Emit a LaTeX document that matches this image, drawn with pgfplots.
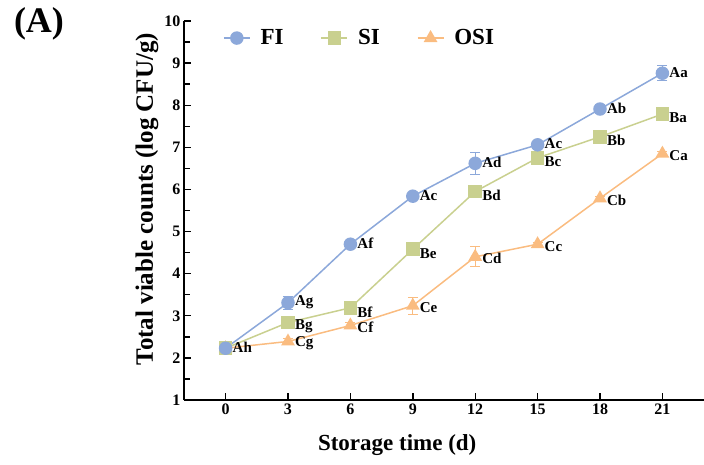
\documentclass[border=0pt]{standalone}
\usepackage{fontspec}
\setmainfont{Liberation Serif}
\usepackage{pgfplots}
\pgfplotsset{compat=1.18}
\definecolor{cFI}{RGB}{140,168,218}
\definecolor{cSI}{RGB}{201,208,143}
\definecolor{cOSI}{RGB}{250,188,128}

% x, mean, sd, letters
\pgfplotstableread{
x y e l
0 2.23 0.04 Ah
3 3.31 0.15 Ag
6 4.70 0.05 Af
9 5.84 0.05 Ac
12 6.62 0.26 Ad
15 7.06 0.08 Ac
18 7.91 0.05 Ab
21 8.76 0.18 Aa
}\tFI
\pgfplotstableread{
x y e l
0 2.23 0.04 {}
3 2.84 0.06 Bg
6 3.19 0.06 Bf
9 4.58 0.10 Be
12 5.95 0.06 Bd
15 6.75 0.06 Bc
18 7.25 0.05 Bb
21 7.79 0.05 Ba
}\tSI
\pgfplotstableread{
x y e l
0 2.23 0.04 {}
3 2.39 0.06 Cg
6 2.77 0.08 Cf
9 3.24 0.20 Ce
12 4.40 0.24 Cd
15 4.70 0.05 Cc
18 5.79 0.05 Cb
21 6.85 0.05 Ca
}\tOSI

\begin{document}
\begin{tikzpicture}
\useasboundingbox (-184pt,-64pt) rectangle (520pt,400pt);
\node[font=\fontsize{36}{36}\selectfont\bfseries] at (-145pt,376pt) {(A)};
\begin{axis}[
  at={(0,0)}, anchor=south west,
  scale only axis, width=520pt, height=379pt,
  xmin=-2, xmax=23, ymin=1, ymax=10,
  axis lines=left, axis line style={line width=1.8pt, -},
  xtick={0,3,...,21}, ytick={1,...,10}, minor y tick num=1,
  tick align=inside, major tick length=7pt, minor tick length=6pt,
  tick style={line width=1.4pt, black},
  ticklabel style={font=\fontsize{16}{16}\selectfont\bfseries},
  /pgf/number format/assume math mode=true,
  xlabel={Storage time (d)},
  ylabel={Total viable counts (log CFU/g)},
  xlabel style={font=\fontsize{23}{23}\selectfont\bfseries,
    at={(axis description cs:0.41,-0.119)}, anchor=center},
  ylabel style={font=\fontsize{25}{25}\selectfont\bfseries,
    at={(axis description cs:-0.071,0.53)}, anchor=center},
  legend style={draw=none, fill=none, at={(axis description cs:0.069,0.955)}, anchor=west,
    font=\fontsize{23}{23}\selectfont\bfseries, legend columns=3,
    /tikz/every even column/.append style={column sep=35pt}},
  legend image code/.code={\draw[mark repeat=2,mark phase=2] plot coordinates {(0pt,0pt)(13pt,0pt)(26pt,0pt)};
    \path (34pt,0pt);},
  reverse legend,
  point meta=explicit symbolic,
  nodes near coords={\pgfplotspointmeta},
  nodes near coords style={anchor=west, xshift=3pt, text=black,
    font=\fontsize{15}{15}\selectfont\bfseries},
  clip=false,
]
\addplot[color=cOSI, line width=1.5pt, mark=triangle*, mark size=6.5pt,
  nodes near coords style={yshift=-2pt},
  error bars/.cd, y dir=both, y explicit,
  error bar style={line width=1pt},
  error mark options={rotate=90, mark size=5pt, line width=1pt}]
  table[x=x, y=y, y error=e, meta=l] {\tOSI};
\addlegendentry{OSI}
\addplot[color=cSI, line width=1.5pt, mark=square*, mark size=6pt,
  nodes near coords style={yshift=-4pt},
  error bars/.cd, y dir=both, y explicit,
  error bar style={line width=1pt},
  error mark options={rotate=90, mark size=5pt, line width=1pt}]
  table[x=x, y=y, y error=e, meta=l] {\tSI};
\addlegendentry{SI}
\addplot[color=cFI, line width=1.5pt, mark=*, mark size=6pt,
  nodes near coords style={yshift=1pt},
  error bars/.cd, y dir=both, y explicit,
  error bar style={line width=1pt},
  error mark options={rotate=90, mark size=5pt, line width=1pt}]
  table[x=x, y=y, y error=e, meta=l] {\tFI};
\addlegendentry{FI}
\end{axis}
\end{tikzpicture}
\end{document}
